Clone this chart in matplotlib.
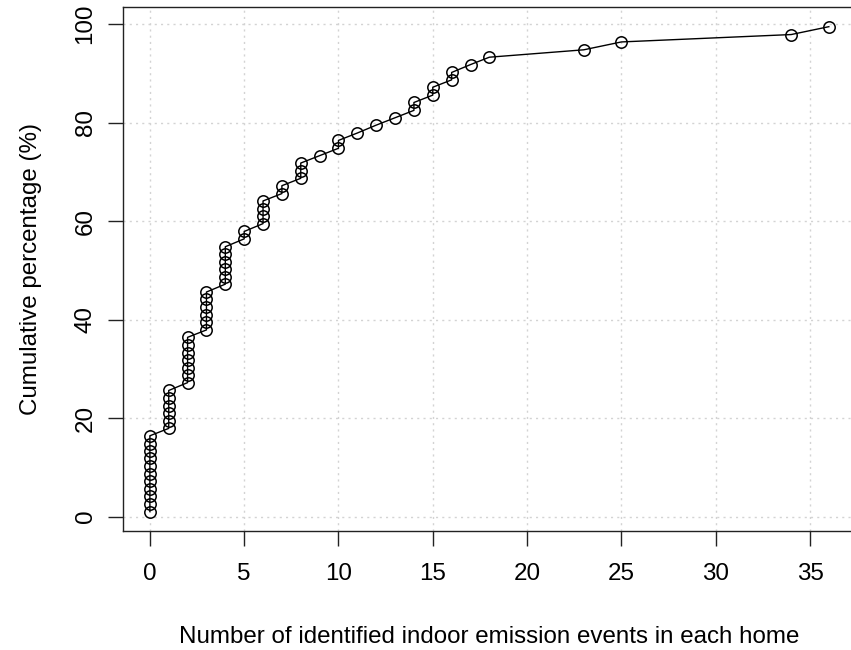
import matplotlib
matplotlib.use("Agg")
import matplotlib.pyplot as plt

plt.rcParams['font.family'] = ['Liberation Sans', 'DejaVu Sans']

# Number of identified indoor emission events per home, sorted
events = [0] * 11 + [1] * 6 + [2] * 7 + [3] * 6 + [4] * 6 + [5] * 2 + [6] * 4 + \
         [7] * 2 + [8] * 3 + [9] + [10] * 2 + [11, 12, 13] + [14] * 2 + [15] * 2 + \
         [16] * 2 + [17, 18, 23, 25, 34, 36]

# Cumulative percentage of homes (%)
cum_pct = [1.0, 2.5, 4.1, 5.6, 7.2, 8.7, 10.2, 11.8, 13.3, 14.8, 16.4, 17.9, 19.5,
           21.0, 22.5, 24.1, 25.6, 27.2, 28.7, 30.2, 31.8, 33.3, 34.8, 36.4, 37.9,
           39.5, 41.0, 42.5, 44.1, 45.6, 47.2, 48.7, 50.2, 51.8, 53.3, 54.8, 56.4,
           57.9, 59.5, 61.0, 62.5, 64.1, 65.6, 67.2, 68.7, 70.2, 71.8, 73.3, 74.8,
           76.4, 77.9, 79.5, 81.0, 82.5, 84.1, 85.6, 87.2, 88.7, 90.2, 91.8, 93.3,
           94.8, 96.4, 97.9, 99.5]

x_ticks = [0, 5, 10, 15, 20, 25, 30, 35]
y_ticks = [0, 20, 40, 60, 80, 100]

FS = 17.4

fig = plt.figure(figsize=(8.51, 6.5), dpi=100)
ax = fig.add_axes([0.1442, 0.1831, 0.8617, 0.8057])

ax.plot(events, cum_pct, color='black', lw=1.0, marker='o', markersize=8.2,
        markerfacecolor='none', markeredgecolor='black', markeredgewidth=1.1,
        zorder=3)
ax.margins(0.04)

ax.set_xticks(x_ticks)
ax.set_yticks(y_ticks)
ax.grid(True, color='#D3D3D3', linestyle=(0, (1.5, 3)), linewidth=1.0)
ax.set_axisbelow(True)

for name, s in ax.spines.items():
    s.set_linewidth(1.0)
    s.set_color('#222222')
ax.spines['right'].set_visible(False)

ax.tick_params(axis='x', direction='out', length=10.8, width=1.0,
               color='#222222', labelsize=FS, pad=12.5)
ax.tick_params(axis='y', direction='out', length=10.8, width=1.0,
               color='#222222', labelsize=FS, pad=8)
for lbl in ax.get_yticklabels():
    lbl.set_rotation(90)
    lbl.set_va('center')

ax.set_xlabel('Number of identified indoor emission events in each home',
              fontsize=FS, va='center')
ax.xaxis.set_label_coords(0.5, -0.2024)
ax.set_ylabel('Cumulative percentage (%)', fontsize=FS, va='center')
ax.yaxis.set_label_coords(-0.125, 0.5)

fig.savefig('out.png', dpi=100)
